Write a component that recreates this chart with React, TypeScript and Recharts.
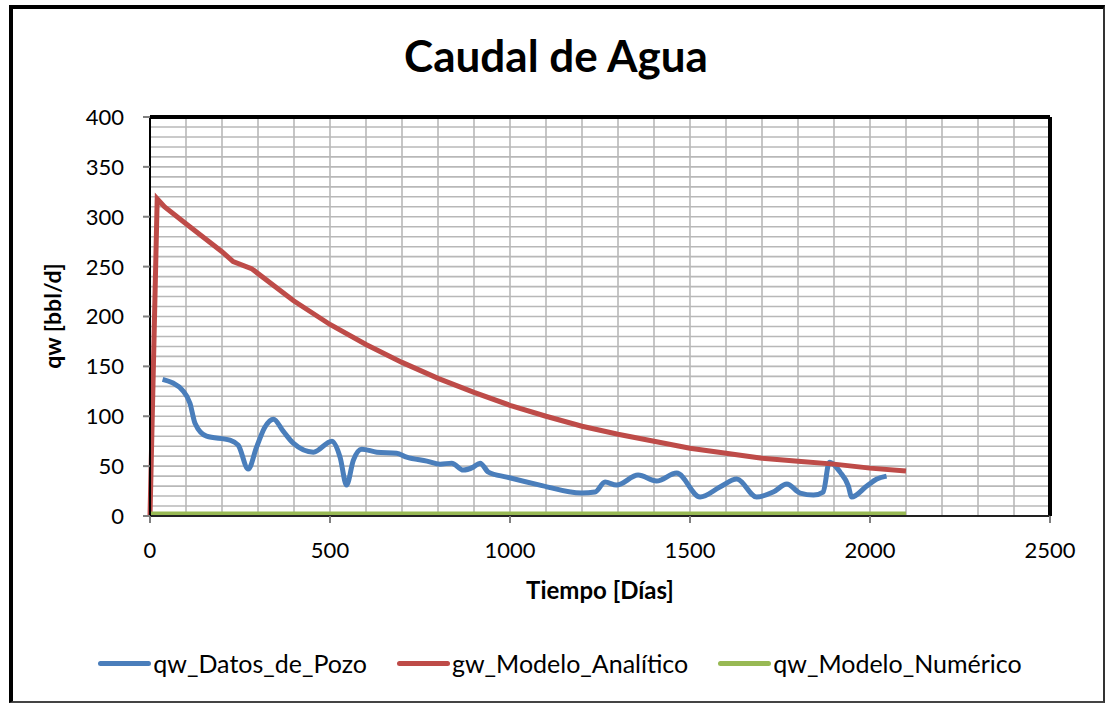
import React from "react";
import {
  LineChart,
  Line,
  XAxis,
  YAxis,
  CartesianGrid,
  ReferenceLine,
} from "recharts";

// qw_Datos_de_Pozo
const datosX = [35, 93, 111, 125, 157, 222, 245, 273, 296, 319, 343, 370, 398, 454, 505, 528, 546, 565, 588, 630, 685, 713, 769, 806, 838, 870, 898, 917, 940, 991, 1083, 1199, 1236, 1264, 1296, 1356, 1407, 1463, 1528, 1583, 1630, 1685, 1731, 1769, 1806, 1843, 1870, 1887, 1917, 1940, 1949, 1991, 2019, 2046];
const datosY = [137, 125, 113, 93, 80, 76, 71, 47, 69, 89, 97, 85, 73, 64, 75, 59, 31, 56, 67, 64, 63, 59, 55, 52, 53, 46, 49, 53, 44, 39, 31, 23, 24, 34, 31, 41, 35, 43, 19, 29, 37, 19, 24, 32, 23, 21, 24, 54, 44, 30, 19, 30, 37, 40];

// gw_Modelo_Analítico
const analiticoX = [0, 20, 40, 100, 150, 200, 231, 282, 398, 500, 600, 700, 800, 900, 1000, 1100, 1200, 1300, 1400, 1500, 1600, 1700, 1800, 1900, 2000, 2100];
const analiticoY = [0, 318, 310, 293, 279, 265, 255, 248, 216, 192, 172, 154, 138, 124, 111, 100, 90, 82, 75, 68, 63, 58, 55, 52, 48, 45];

// qw_Modelo_Numérico
const numericoX = [0, 500, 1000, 1500, 2100];
const numericoY = [2, 2, 2, 2, 2];

const xMajor = [0, 500, 1000, 1500, 2000, 2500];
const yMajor = [0, 50, 100, 150, 200, 250, 300, 350, 400];
const xGrid = Array.from({ length: 26 }, (_, i) => i * 100);
const yGrid = Array.from({ length: 41 }, (_, i) => i * 10);

const series = [
  { name: "qw_Datos_de_Pozo", color: "#4a7ebb", xs: datosX, ys: datosY, curve: "monotone" },
  { name: "gw_Modelo_Analítico", color: "#be4b48", xs: analiticoX, ys: analiticoY, curve: "linear" },
  { name: "qw_Modelo_Numérico", color: "#98b954", xs: numericoX, ys: numericoY, curve: "linear" },
];

const FONT = "Lato, 'Open Sans', sans-serif";

const toRows = (xs: number[], ys: number[]) => xs.map((x, i) => ({ t: x, q: ys[i] }));

function XTick(props: any) {
  const { x, y, payload } = props;
  if (!xMajor.includes(payload.value)) return null;
  return (
    <g>
      <line x1={x} x2={x} y1={y} y2={y + 7} stroke="#7f7f7f" strokeWidth={2} />
      <text x={x} y={y + 42} textAnchor="middle" fontSize={22} fill="#000" fontFamily={FONT}>
        {payload.value}
      </text>
    </g>
  );
}

function YTick(props: any) {
  const { x, y, payload } = props;
  if (!yMajor.includes(payload.value)) return null;
  return (
    <g>
      <line x1={x - 7} x2={x} y1={y} y2={y} stroke="#7f7f7f" strokeWidth={2} />
      <text x={x - 26} y={y} dy="0.36em" textAnchor="end" fontSize={22} fill="#000" fontFamily={FONT}>
        {payload.value}
      </text>
    </g>
  );
}

function LegendBox() {
  return (
    <div
      style={{
        position: "absolute",
        left: 0,
        width: 1106,
        top: 648,
        display: "flex",
        justifyContent: "center",
        alignItems: "center",
        gap: 30,
        paddingLeft: 14,
        boxSizing: "border-box",
        fontFamily: FONT,
        fontSize: 25,
        color: "#000",
      }}
    >
      {series.map((s) => (
        <div key={s.name} style={{ display: "flex", alignItems: "center" }}>
          <div style={{ width: 53, height: 5, borderRadius: 3, background: s.color, marginRight: 2 }} />
          <span>{s.name}</span>
        </div>
      ))}
    </div>
  );
}

export default function App() {
  return (
    <div style={{ position: "absolute", left: 0, top: 0, width: 1106, height: 704, background: "#fff" }}>
      <div
        style={{
          position: "absolute",
          left: 9,
          top: 5,
          width: 1090,
          height: 692,
          borderLeft: "4px solid #000",
          borderTop: "4px solid #000",
          borderRight: "2px solid #333",
          borderBottom: "2px solid #444",
        }}
      />
      <div
        style={{
          position: "absolute",
          left: 9,
          width: 1094,
          top: 29,
          textAlign: "center",
          fontFamily: FONT,
          fontWeight: 700,
          fontSize: 44,
          color: "#000",
        }}
      >
        Caudal de Agua
      </div>
      <div style={{ position: "absolute", left: 0, top: 0 }}>
        <LineChart width={1106} height={704} margin={{ top: 117, right: 56, bottom: 148, left: 100 }}>
          <CartesianGrid stroke="#b8b8b8" strokeWidth={1.6} />
          <XAxis
            type="number"
            dataKey="t"
            domain={[0, 2500]}
            ticks={xGrid}
            interval={0}
            height={40}
            tickSize={0}
            tickMargin={0}
            tickLine={false}
            tick={<XTick />}
            axisLine={{ stroke: "#222", strokeWidth: 2 }}
            allowDuplicatedCategory={false}
          />
          <YAxis
            type="number"
            domain={[0, 400]}
            ticks={yGrid}
            interval={0}
            width={50}
            tickSize={0}
            tickMargin={0}
            tickLine={false}
            tick={<YTick />}
            axisLine={{ stroke: "#000", strokeWidth: 2 }}
          />
          <ReferenceLine y={400} stroke="#000" strokeWidth={4} />
          <ReferenceLine x={2500} stroke="#000" strokeWidth={4} />
          {series.map((s) => (
            <Line
              key={s.name}
              name={s.name}
              data={toRows(s.xs, s.ys)}
              dataKey="q"
              type={s.curve as any}
              stroke={s.color}
              strokeWidth={5}
              dot={false}
              activeDot={false}
              isAnimationActive={false}
            />
          ))}
        </LineChart>
      </div>
      <LegendBox />
      <div
        style={{
          position: "absolute",
          left: 150,
          width: 900,
          top: 575,
          textAlign: "center",
          fontFamily: FONT,
          fontWeight: 700,
          fontSize: 24,
          color: "#000",
        }}
      >
        Tiempo [Días]
      </div>
      <div
        style={{
          position: "absolute",
          left: 52,
          top: 316,
          transform: "translate(-50%, -50%) rotate(-90deg)",
          whiteSpace: "nowrap",
          fontFamily: FONT,
          fontWeight: 700,
          fontSize: 23,
          color: "#000",
        }}
      >
        qw [bbl/d]
      </div>
    </div>
  );
}
